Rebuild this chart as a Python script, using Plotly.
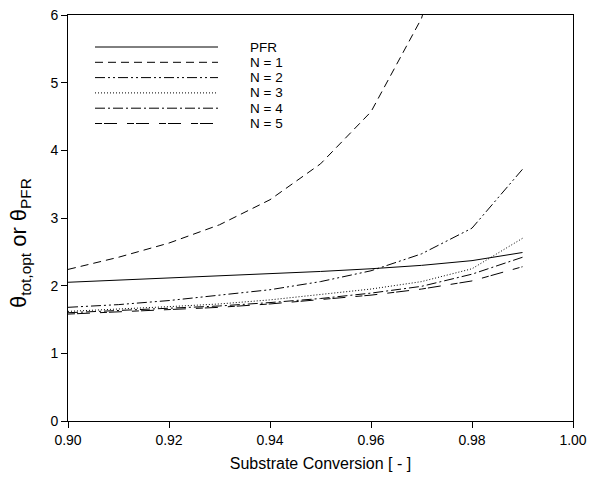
import plotly.graph_objects as go

conversion = [0.90, 0.91, 0.92, 0.93, 0.94, 0.95, 0.96, 0.97, 0.98, 0.99]
theta_pfr = [2.05, 2.08, 2.11, 2.14, 2.17, 2.21, 2.25, 2.30, 2.37, 2.49]
theta_n1 = [2.24, 2.42, 2.63, 2.90, 3.27, 3.80, 4.57, 5.95, 8.50, 14.0]
theta_n2 = [1.68, 1.72, 1.78, 1.86, 1.94, 2.06, 2.22, 2.47, 2.85, 3.72]
theta_n3 = [1.62, 1.65, 1.69, 1.73, 1.79, 1.87, 1.95, 2.06, 2.25, 2.70]
theta_n4 = [1.60, 1.63, 1.66, 1.70, 1.75, 1.81, 1.89, 1.99, 2.17, 2.42]
theta_n5 = [1.58, 1.61, 1.64, 1.68, 1.73, 1.79, 1.86, 1.95, 2.07, 2.28]

series_names = ["PFR", "N = 1", "N = 2", "N = 3", "N = 4", "N = 5"]
series_values = [theta_pfr, theta_n1, theta_n2, theta_n3, theta_n4, theta_n5]
dashes = ["solid", "8px,5px", "10px,3px,2px,3px,2px,3px", "1px,2px",
          "10px,3px,2px,3px", "7px,2px,13px,10px"]

x_ticks = [0.90, 0.92, 0.94, 0.96, 0.98, 1.00]
y_ticks = [0, 1, 2, 3, 4, 5, 6]

FONT = "Liberation Sans"

fig = go.Figure()
for name, vals, d in zip(series_names, series_values, dashes):
    fig.add_trace(go.Scatter(x=conversion, y=vals, mode="lines", name=name,
                             line=dict(color="black", width=1, dash=d),
                             showlegend=False))

# Manual legend (long line samples like the original)
pw = 573 - 68
ph = 421 - 15
x0 = (95 - 68) / pw
x1 = (218 - 68) / pw
xt = (248 - 68) / pw
for i, (name, d) in enumerate(zip(series_names, dashes)):
    ypx = 47 + i * 15.3
    yp = 1 - (ypx - 15) / ph
    fig.add_shape(type="line", xref="paper", yref="paper", x0=x0, x1=x1, y0=yp, y1=yp,
                  line=dict(color="black", width=1, dash=d))
    fig.add_annotation(xref="paper", yref="paper", x=xt, y=yp, text=name,
                       showarrow=False, xanchor="left", yanchor="middle",
                       font=dict(family=FONT, size=13.5, color="black"))

# y-axis title as a rotated annotation (placed like the original)
fig.add_annotation(xref="paper", yref="paper", x=(20 - 68) / pw, y=1 - (243 - 15) / ph,
                   text="θ<sub>tot,opt</sub> or θ<sub>PFR</sub>", textangle=-90,
                   showarrow=False, xanchor="center", yanchor="middle",
                   font=dict(family=FONT, size=22, color="black"))

fig.update_layout(
    width=596, height=481,
    margin=dict(l=68, r=23, t=15, b=60),
    plot_bgcolor="white", paper_bgcolor="white",
    font=dict(family=FONT, size=14, color="black"),
    xaxis=dict(range=[0.90, 1.00], tickvals=x_ticks, tickformat=".2f",
               ticks="outside", ticklen=6, tickcolor="black",
               showline=True, linecolor="black", linewidth=1, mirror=True,
               showgrid=False, zeroline=False, automargin=False,
               ticklabeloverflow="allow",
               title=dict(text="Substrate Conversion [ - ]", font=dict(size=16), standoff=11)),
    yaxis=dict(range=[0, 6], tickvals=y_ticks,
               ticks="outside", ticklen=6, tickcolor="black",
               showline=True, linecolor="black", linewidth=1, mirror=True,
               showgrid=False, zeroline=False, automargin=False,
               ticklabeloverflow="allow"),
)

fig.write_html("out.html", config={"displayModeBar": False},
               post_script="document.body.style.margin='0';document.body.style.overflow='hidden';")
